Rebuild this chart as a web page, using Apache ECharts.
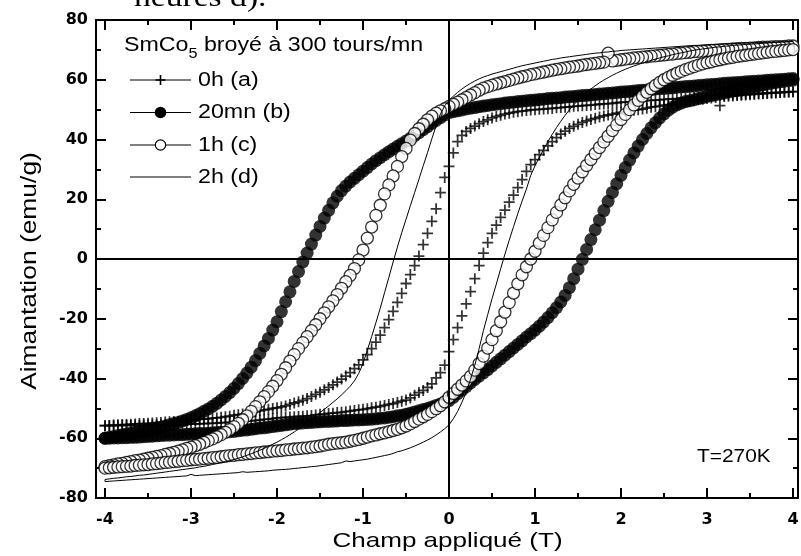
<!DOCTYPE html>
<html><head><meta charset="utf-8">
<script src="https://cdn.jsdelivr.net/npm/echarts@6/dist/echarts.min.js"></script>
<style>html,body{margin:0;padding:0;background:#fff;}#c{width:801px;height:556px;}</style>
</head><body><div id="c"></div>
<script>
// Applied field (T), shared sampling of all branches
const H = [-4,-3.95,-3.9,-3.85,-3.8,-3.75,-3.7,-3.65,-3.6,-3.55,-3.5,-3.45,-3.4,-3.35,-3.3,-3.25,-3.2,-3.15,-3.1,-3.05,
-3,-2.95,-2.9,-2.85,-2.8,-2.75,-2.7,-2.65,-2.6,-2.55,-2.5,-2.45,-2.4,-2.35,-2.3,-2.25,-2.2,-2.15,-2.1,-2.05,
-2,-1.95,-1.9,-1.85,-1.8,-1.75,-1.7,-1.65,-1.6,-1.55,-1.5,-1.45,-1.4,-1.35,-1.3,-1.25,-1.2,-1.15,-1.1,-1.05,
-1,-0.95,-0.9,-0.85,-0.8,-0.75,-0.7,-0.65,-0.6,-0.55,-0.5,-0.45,-0.4,-0.35,-0.3,-0.25,-0.2,-0.15,-0.1,-0.05,
0,0.05,0.1,0.15,0.2,0.25,0.3,0.35,0.4,0.45,0.5,0.55,0.6,0.65,0.7,0.75,0.8,0.85,0.9,0.95,
1,1.05,1.1,1.15,1.2,1.25,1.3,1.35,1.4,1.45,1.5,1.55,1.6,1.65,1.7,1.75,1.8,1.85,1.9,1.95,
2,2.05,2.1,2.15,2.2,2.25,2.3,2.35,2.4,2.45,2.5,2.55,2.6,2.65,2.7,2.75,2.8,2.85,2.9,2.95,
3,3.05,3.1,3.15,3.2,3.25,3.3,3.35,3.4,3.45,3.5,3.55,3.6,3.65,3.7,3.75,3.8,3.85,3.9,3.95,4];

// 0h (a): descending branch (Up) and ascending branch (Lo), listed along H
const aUp = [-55.8,-55.7,-55.6,-55.5,-55.4,-55.4,-55.3,-55.2,-55.1,-55.1,-55.0,-54.9,-54.8,-54.7,-54.6,-54.5,-54.4,-54.3,-54.2,-54.1,
-54.0,-53.9,-53.7,-53.6,-53.5,-53.3,-53.2,-53.0,-52.8,-52.6,-52.3,-52.1,-51.9,-51.6,-51.4,-51.1,-50.8,-50.5,-50.3,-50.0,
-49.8,-49.5,-49.2,-48.7,-48.2,-47.8,-47.3,-46.7,-46.0,-45.3,-44.6,-43.8,-43.0,-42.1,-41.2,-40.2,-39.2,-38.0,-36.7,-35.4,
-33.8,-32.0,-30.0,-27.8,-25.5,-23.0,-20.3,-17.5,-14.5,-11.5,-8.2,-5.2,-2.2,1.0,4.8,8.6,12.6,16.8,22.2,27.3,
31.0,35.5,39.3,41.4,42.7,43.7,44.5,45.3,46.0,46.6,47.2,47.7,48.1,48.5,48.8,49.1,49.3,49.5,49.7,49.9,
50.0,50.1,50.2,50.3,50.4,50.6,50.7,50.8,50.9,51.1,51.2,51.3,51.4,51.5,51.7,51.8,51.9,52.0,52.1,52.3,
52.4,52.5,52.6,52.7,52.8,52.9,53.0,53.1,53.2,53.3,53.4,53.5,53.6,53.7,53.8,53.9,54.0,54.1,54.2,54.3,
54.4,54.5,54.6,54.7,54.8,54.9,54.9,55.0,55.1,55.2,55.3,55.4,55.4,55.5,55.6,55.7,55.7,55.8,55.9,55.9,56.0];
const aLo = [-55.8,-55.8,-55.8,-55.8,-55.7,-55.7,-55.7,-55.7,-55.7,-55.6,-55.6,-55.6,-55.6,-55.5,-55.5,-55.5,-55.4,-55.4,-55.4,-55.3,
-55.3,-55.2,-55.2,-55.1,-55.0,-55.0,-54.9,-54.8,-54.8,-54.7,-54.6,-54.5,-54.4,-54.3,-54.2,-54.0,-53.9,-53.7,-53.6,-53.4,
-53.2,-53.1,-53.0,-52.9,-52.8,-52.7,-52.6,-52.5,-52.4,-52.2,-52.0,-51.9,-51.7,-51.6,-51.4,-51.3,-51.1,-50.9,-50.7,-50.5,
-50.3,-50.1,-49.8,-49.6,-49.3,-49.0,-48.7,-48.4,-48.0,-47.6,-47.2,-46.5,-45.6,-44.7,-44.0,-43.0,-41.8,-39.8,-38.0,-35.5,
-31.0,-27.0,-23.0,-19.0,-15.0,-10.9,-6.6,-2.2,2.0,5.5,8.6,11.3,13.9,16.4,19.0,21.4,23.9,26.6,29.3,31.6,
33.3,34.9,36.4,37.9,39.3,40.6,41.8,42.8,43.7,44.4,45.1,45.7,46.2,46.7,47.1,47.5,47.9,48.2,48.5,48.8,
49.1,49.3,49.6,49.8,50.0,50.2,50.5,50.8,51.0,51.2,51.5,51.7,51.9,52.1,52.4,52.6,52.8,53.0,53.3,53.5,
53.7,53.9,54.1,51.3,54.4,54.5,54.6,54.7,54.8,54.9,55.0,55.1,55.2,55.3,55.4,55.5,55.6,55.7,55.8,55.9,56.0];

// 20mn (b)
const bUp = [-60.0,-59.7,-59.4,-59.1,-58.8,-58.6,-58.3,-58.0,-57.8,-57.5,-57.2,-56.9,-56.6,-56.3,-55.9,-55.5,-55.1,-54.7,-54.2,-53.7,
-53.1,-52.5,-51.8,-51.0,-50.2,-49.3,-48.3,-47.2,-46.0,-44.7,-43.3,-41.7,-40.0,-38.2,-36.2,-34.0,-31.6,-29.1,-26.6,-23.8,
-21.0,-17.6,-14.3,-11.0,-7.5,-4.2,-1.0,2.0,5.0,8.0,10.9,13.7,16.3,18.8,21.0,22.9,24.4,25.8,27.0,28.2,
29.4,30.6,31.8,32.9,33.9,34.9,35.9,36.8,37.7,38.6,39.5,40.4,41.3,42.3,43.3,44.3,45.4,46.4,47.3,48.2,
49.0,49.3,49.6,49.9,50.2,50.5,50.7,51.0,51.2,51.4,51.6,51.8,52.0,52.2,52.4,52.5,52.7,52.8,53.0,53.1,
53.2,53.4,53.5,53.7,53.8,53.9,54.0,54.2,54.3,54.4,54.6,54.7,54.8,54.9,55.1,55.2,55.3,55.5,55.6,55.7,
55.9,56.0,56.1,56.2,56.4,56.5,56.6,56.7,56.9,57.0,57.1,57.2,57.3,57.5,57.6,57.7,57.8,57.9,58.1,58.2,
58.3,58.4,58.5,58.7,58.8,58.9,59.0,59.1,59.2,59.3,59.4,59.5,59.6,59.7,59.8,59.9,60.0,60.1,60.2,60.3,60.4];
const bLo = [-60.0,-60.0,-59.9,-59.9,-59.8,-59.8,-59.7,-59.7,-59.6,-59.5,-59.4,-59.3,-59.2,-59.1,-59.0,-59.0,-58.9,-58.8,-58.8,-58.7,
-58.6,-58.5,-58.4,-58.4,-58.3,-58.2,-58.1,-58.0,-57.9,-57.8,-57.7,-57.5,-57.3,-57.2,-57.0,-56.8,-56.6,-56.5,-56.3,-56.1,
-55.9,-55.7,-55.5,-55.3,-55.1,-55.0,-54.9,-54.8,-54.7,-54.6,-54.5,-54.4,-54.4,-54.3,-54.2,-54.1,-54.1,-54.0,-53.9,-53.9,
-53.8,-53.7,-53.6,-53.5,-53.3,-53.2,-53.0,-52.8,-52.5,-52.3,-52.0,-51.6,-51.2,-50.8,-50.4,-50.0,-49.5,-49.0,-48.5,-48.0,
-47.4,-46.3,-45.1,-43.9,-42.7,-41.5,-40.3,-39.2,-38.1,-37.0,-35.8,-34.6,-33.4,-32.2,-31.0,-29.8,-28.6,-27.4,-26.1,-25.0,
-23.8,-22.5,-21.1,-19.6,-18.0,-16.3,-14.4,-12.2,-9.6,-6.6,-3.4,-0.1,3.2,6.5,9.8,13.0,16.2,19.3,22.3,25.2,
28.0,30.6,33.1,35.5,37.8,40.0,42.0,43.9,45.6,47.2,48.6,49.8,50.8,51.6,52.2,52.7,53.0,53.3,53.7,54.0,
54.4,54.7,55.0,55.3,55.6,55.9,56.2,56.5,56.8,57.1,57.4,57.7,58.0,58.3,58.6,58.9,59.1,59.3,59.5,59.7,59.9];

// 1h (c)
const cUp = [-69.5,-69.2,-68.9,-68.6,-68.4,-68.1,-67.8,-67.5,-67.3,-67.0,-66.7,-66.4,-66.1,-65.8,-65.4,-65.1,-64.7,-64.3,-63.9,-63.4,
-63.0,-62.5,-62.0,-61.4,-60.8,-60.2,-59.5,-58.8,-58.0,-57.1,-56.1,-55.0,-53.8,-52.5,-51.0,-49.4,-47.8,-46.1,-44.4,-42.6,
-40.7,-38.6,-36.4,-34.2,-32.0,-30.0,-28.0,-26.0,-24.0,-22.0,-20.0,-18.0,-16.0,-14.0,-11.9,-9.8,-7.6,-5.5,-3.2,-0.3,
3.0,7.0,10.7,14.6,18.0,21.8,24.8,27.8,31.0,34.3,37.0,39.8,42.0,43.6,45.1,46.6,47.8,48.8,49.6,50.3,
51.1,51.8,52.5,53.3,54.1,54.9,55.7,56.5,57.2,57.7,58.2,58.6,59.0,59.4,59.8,60.2,60.6,61.0,61.3,61.7,
62.0,62.3,62.6,62.9,63.2,63.5,63.7,64.0,64.2,64.4,64.6,64.9,65.1,65.3,65.5,65.7,65.9,68.9,66.3,66.5,
66.7,66.9,67.1,67.3,67.4,67.6,67.7,67.9,68.0,68.2,68.3,68.5,68.6,68.8,68.9,69.1,69.2,69.4,69.5,69.6,
69.7,69.8,69.9,70.0,70.1,70.2,70.3,70.4,70.5,70.5,70.6,70.7,70.8,70.9,70.9,71.0,71.1,71.1,71.2,71.3,71.3];
const cLo = [-70.0,-69.9,-69.7,-69.6,-69.5,-69.4,-69.3,-69.1,-69.0,-68.9,-68.8,-68.6,-68.5,-68.3,-68.1,-68.0,-67.8,-67.7,-67.5,-67.4,
-67.2,-67.1,-67.0,-66.8,-66.7,-66.5,-66.4,-66.2,-66.0,-65.8,-65.7,-65.5,-65.4,-65.2,-65.1,-64.9,-64.8,-64.6,-64.5,-64.3,
-64.2,-64.1,-63.9,-63.8,-63.6,-63.5,-63.3,-63.2,-63.0,-62.8,-62.6,-62.3,-62.0,-61.8,-61.6,-61.5,-61.3,-61.0,-60.7,-60.4,
-60.0,-59.6,-59.2,-58.9,-58.5,-58.2,-57.8,-57.4,-57.0,-56.5,-55.9,-55.2,-54.4,-53.6,-52.8,-52.0,-51.1,-50.1,-49.1,-47.8,
-46.3,-45.0,-43.6,-42.2,-40.8,-39.3,-37.2,-35.0,-32.5,-29.8,-27.0,-24.0,-21.0,-17.8,-14.6,-11.4,-8.3,-5.3,-2.6,0.0,
2.6,5.3,7.9,10.5,13.1,15.6,18.1,20.5,22.8,25.0,27.1,29.2,31.3,33.3,35.3,37.3,39.2,41.1,43.0,44.9,
46.7,48.4,50.0,51.6,53.1,54.5,55.8,57.0,58.1,59.1,60.0,60.8,61.5,62.2,62.8,63.4,63.9,64.4,64.9,65.3,
65.7,66.0,66.4,66.7,67.0,67.3,67.5,67.8,68.0,68.2,68.4,68.6,68.8,69.0,69.2,69.4,69.5,69.7,69.8,70.0,70.1];

// 2h (d)
const dUp = [-73.8,-73.6,-73.4,-73.3,-73.1,-72.9,-72.8,-72.6,-72.4,-72.3,-72.1,-71.9,-71.7,-71.5,-71.3,-71.1,-70.9,-70.7,-70.5,-70.3,
-70.1,-69.9,-69.6,-69.4,-69.1,-68.8,-68.5,-68.2,-67.9,-67.5,-67.1,-66.7,-66.2,-65.7,-65.2,-64.6,-64.0,-63.4,-62.7,-62.0,
-61.3,-60.5,-59.7,-58.8,-57.9,-56.9,-55.8,-54.7,-53.6,-52.5,-51.4,-50.3,-49.2,-48.0,-46.8,-45.5,-44.1,-42.6,-40.8,-38.3,
-35.0,-30.5,-26.0,-21.3,-16.5,-11.3,-6.2,-1.0,4.0,8.8,13.3,17.8,22.2,26.7,31.2,35.6,40.2,44.6,48.5,51.3,
53.1,54.5,55.8,56.9,57.9,58.8,59.6,60.3,60.9,61.4,61.9,62.3,62.7,63.1,63.5,63.9,64.3,64.7,65.0,65.3,
65.6,65.9,66.2,66.5,66.8,67.0,67.3,67.5,67.7,67.9,68.1,68.3,68.5,68.7,68.9,69.0,69.2,69.3,69.5,69.6,
69.8,69.9,70.0,70.1,70.2,70.3,70.4,70.5,70.6,70.7,70.8,70.9,71.0,71.1,71.2,71.3,71.4,71.5,71.5,71.6,
71.7,71.8,71.8,71.9,72.0,72.0,72.1,72.2,72.2,72.3,72.3,72.4,72.4,72.5,72.5,72.6,72.6,72.7,72.7,72.8,72.8];
const dLo = [-74.5,-74.4,-74.3,-74.2,-74.1,-74.0,-73.9,-73.8,-73.7,-73.6,-73.5,-73.4,-73.3,-73.2,-73.1,-73.0,-72.9,-72.8,-72.7,-72.6,
-72.1,-72.5,-72.4,-72.3,-72.2,-72.1,-72.0,-71.9,-71.8,-71.7,-71.6,-71.5,-71.2,-71.4,-71.3,-71.2,-71.1,-71.0,-70.9,-70.7,
-70.6,-70.5,-70.4,-70.3,-70.1,-70.0,-69.8,-69.7,-69.5,-69.4,-69.2,-69.0,-68.8,-68.6,-68.4,-68.2,-67.6,-67.8,-67.6,-67.4,
-67.2,-67.0,-66.7,-66.4,-66.1,-65.8,-65.5,-65.1,-64.5,-64.2,-63.7,-63.2,-62.6,-62.0,-61.3,-60.6,-59.8,-58.9,-57.9,-56.8,
-55.5,-53.5,-51.0,-48.0,-44.5,-40.3,-35.5,-30.0,-24.0,-18.6,-13.3,-8.4,-3.3,1.6,6.3,10.8,15.2,19.4,23.4,28.0,
31.2,34.0,36.7,39.3,41.7,44.0,46.1,48.1,49.9,51.6,53.1,54.5,55.8,56.9,58.0,59.0,59.9,60.7,61.5,62.2,
62.9,63.5,64.1,64.6,65.1,65.6,66.0,66.5,66.9,67.3,67.7,68.0,68.4,68.7,69.0,69.3,69.6,69.9,70.1,70.3,
70.5,70.7,70.9,71.0,71.2,71.3,71.5,71.6,71.7,71.8,71.9,72.0,72.1,72.2,72.3,72.4,72.5,72.6,72.7,72.7,72.8];

const seriesNames = ['0h (a)', '20mn (b)', '1h (c)', '2h (d)'];

function loop(up, lo) {
  const out = [];
  for (let i = H.length - 1; i >= 0; i--) out.push([H[i], up[i]]);
  for (let i = 0; i < H.length; i++) out.push([H[i], lo[i]]);
  return out;
}

const SANS = '"Liberation Sans", Arial, Helvetica, sans-serif';
const TICKFONT = '"DejaVu Sans", "Liberation Sans", sans-serif';
const K = '#000';
const PLUS = 'path://M4.2,0H5.8V4.2H10V5.8H5.8V10H4.2V5.8H0V4.2H4.2Z';

const frameAxis = (pos) => ({
  gridIndex: 0, type: 'value', min: -4.105, max: 4.058, position: pos,
  axisLine: { show: true, onZero: false, lineStyle: { color: K, width: 2 } },
  axisTick: { show: false }, axisLabel: { show: false }, splitLine: { show: false }
});
const tickX = (pos, labels) => ({
  gridIndex: 1, type: 'value', min: -4, max: 4, interval: 1, position: pos,
  axisLine: { show: false, onZero: false },
  axisTick: { show: true, inside: true, length: 10, lineStyle: { color: K, width: 2 } },
  minorTick: { show: true, splitNumber: 2, length: 5, lineStyle: { color: K, width: 2 } },
  axisLabel: { show: labels, margin: 14, color: K, fontFamily: TICKFONT, fontWeight: 'bold', fontSize: 16 },
  splitLine: { show: false }
});
const yAx = (pos, labels) => ({
  gridIndex: 0, type: 'value', min: -80, max: 80, interval: 20, position: pos,
  axisLine: { show: true, onZero: false, lineStyle: { color: K, width: 2 } },
  axisTick: { show: true, inside: true, length: 10, lineStyle: { color: K, width: 2 } },
  minorTick: { show: true, splitNumber: 2, length: 5, lineStyle: { color: K, width: 2 } },
  axisLabel: { show: labels, margin: 8, color: K, fontFamily: TICKFONT, fontWeight: 'bold', fontSize: 16 },
  splitLine: { show: false }
});

const SX = 1.16;
const legendY = [80, 112.5, 145, 177];
const g = [];
g.push({ type: 'text', x: 134, y: 13, scaleX: 1.2, style: { text: 'heures d).', font: '28px "Liberation Serif", "Times New Roman", serif', fill: K, textAlign: 'left', textVerticalAlign: 'bottom' } });
g.push({ type: 'text', x: 124, y: 48, scaleX: SX, style: {
  text: '{n|SmCo}{s|5}{n| broyé à 300 tours/mn}', fill: K, textAlign: 'left', textVerticalAlign: 'middle',
  rich: { n: { fontFamily: SANS, fontSize: 20, padding: [0, 0, 6, 0], verticalAlign: 'bottom', fill: K },
          s: { fontFamily: SANS, fontSize: 14, verticalAlign: 'bottom', fill: K } } } });
for (let i = 0; i < 4; i++) {
  const y = legendY[i];
  g.push({ type: 'line', shape: { x1: 130, y1: y, x2: 191, y2: y }, style: { stroke: K, lineWidth: 1 } });
  g.push({ type: 'text', x: 198, y: y, scaleX: SX, style: { text: seriesNames[i], font: '20px ' + SANS, fill: K, textAlign: 'left', textVerticalAlign: 'middle' } });
}
g.push({ type: 'rect', shape: { x: 155.5, y: legendY[0] - 0.8, width: 10, height: 1.6 }, style: { fill: K } });
g.push({ type: 'rect', shape: { x: 159.7, y: legendY[0] - 5, width: 1.6, height: 10 }, style: { fill: K } });
g.push({ type: 'circle', shape: { cx: 160.5, cy: legendY[1], r: 5.8 }, style: { fill: K } });
g.push({ type: 'circle', shape: { cx: 160.5, cy: legendY[2], r: 5.2 }, style: { fill: '#fff', stroke: K, lineWidth: 1.2 } });
g.push({ type: 'text', x: 697, y: 457, scaleX: 1.1, style: { text: 'T=270K', font: '19px ' + SANS, fill: K, textAlign: 'left', textVerticalAlign: 'middle' } });
g.push({ type: 'text', x: 447.5, y: 541, scaleX: 1.24, style: { text: 'Champ appliqué (T)', font: '21px ' + SANS, fill: K, textAlign: 'center', textVerticalAlign: 'middle' } });
g.push({ type: 'text', x: 30, y: 271, rotation: Math.PI / 2, scaleX: 1.2, style: { text: 'Aimantation (emu/g)', font: '22px ' + SANS, fill: K, textAlign: 'center', textVerticalAlign: 'middle' } });

const chart = echarts.init(document.getElementById('c'), null, { renderer: 'canvas' });
chart.setOption({
  animation: false,
  backgroundColor: '#fff',
  grid: [
    { left: 96, right: 3, top: 20, bottom: 58, containLabel: false, outerBoundsMode: 'none' },
    { left: 105, right: 8, top: 20, bottom: 58, containLabel: false, outerBoundsMode: 'none' }
  ],
  xAxis: [frameAxis('bottom'), frameAxis('top'), tickX('bottom', true), tickX('top', false)],
  yAxis: [yAx('left', true), yAx('right', false), { gridIndex: 1, type: 'value', min: -80, max: 80, show: false }],
  series: [
    { name: seriesNames[0], type: 'scatter', xAxisIndex: 0, yAxisIndex: 0, silent: true, data: loop(aUp, aLo),
      symbol: PLUS, symbolSize: 11, itemStyle: { color: K } },
    { name: seriesNames[1], type: 'scatter', xAxisIndex: 0, yAxisIndex: 0, silent: true, data: loop(bUp, bLo),
      symbol: 'circle', symbolSize: 13, itemStyle: { color: K } },
    { name: seriesNames[2], type: 'scatter', xAxisIndex: 0, yAxisIndex: 0, silent: true, data: loop(cUp, cLo),
      symbol: 'circle', symbolSize: 12, itemStyle: { color: '#fff', borderColor: K, borderWidth: 1.3 } },
    { name: seriesNames[3], type: 'line', xAxisIndex: 0, yAxisIndex: 0, silent: true, data: loop(dUp, dLo),
      symbol: 'none', lineStyle: { color: K, width: 1 },
      markLine: { silent: true, symbol: ['none', 'none'], label: { show: false },
        lineStyle: { color: K, width: 2, type: 'solid' }, data: [{ xAxis: 0 }, { yAxis: 0 }] } }
  ],
  graphic: { elements: g }
});
</script></body></html>
